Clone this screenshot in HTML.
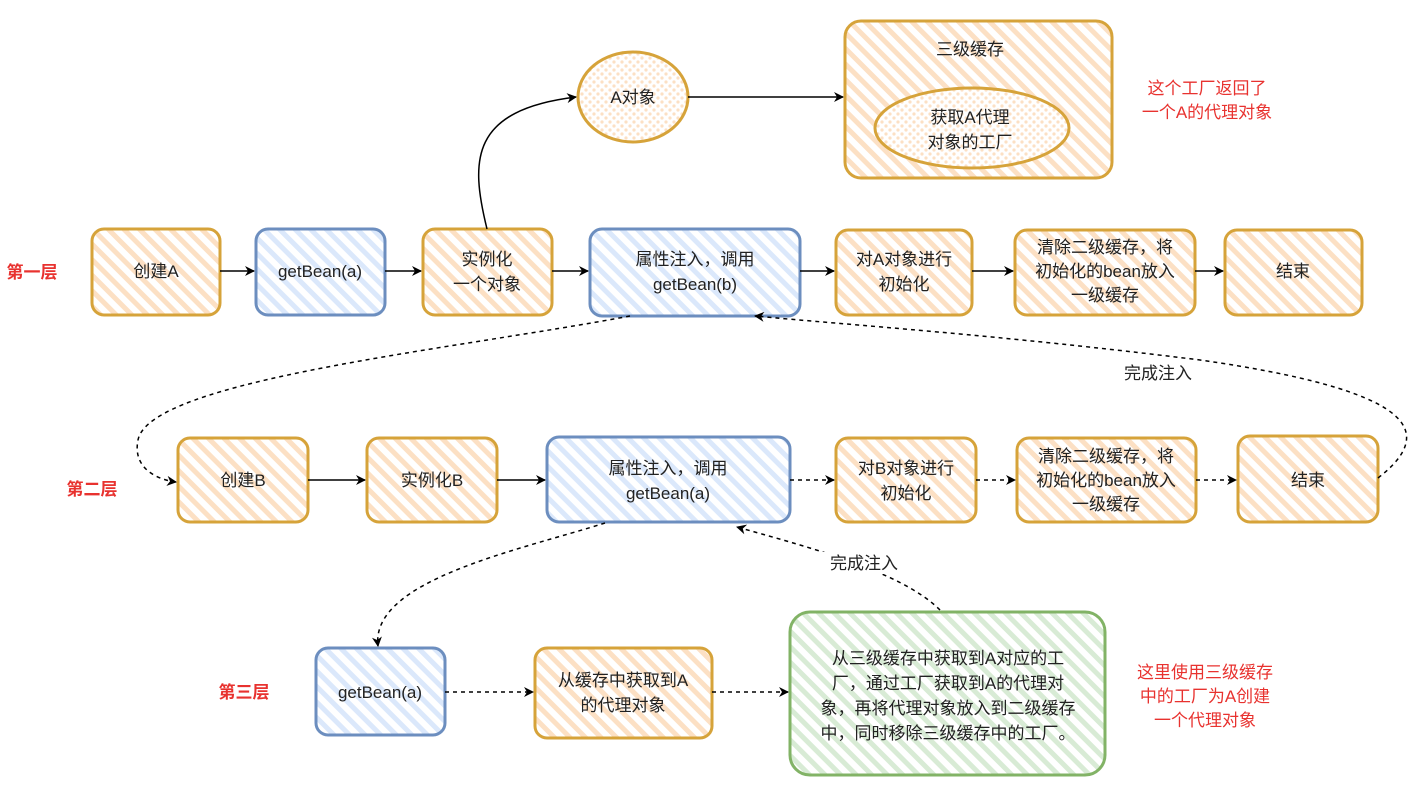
<!DOCTYPE html>
<html><head><meta charset="utf-8"><style>
html,body{margin:0;padding:0;background:#fff;}
svg{display:block;font-family:"Liberation Sans","Noto Sans CJK SC",sans-serif;}
</style></head><body>
<svg width="1422" height="800" viewBox="0 0 1422 800" xmlns="http://www.w3.org/2000/svg">
<defs>
<pattern id="po" width="11" height="11" patternUnits="userSpaceOnUse" patternTransform="rotate(-45)"><rect width="11" height="11" fill="#fff"/><rect width="5" height="11" fill="#fce0c4"/></pattern>
<pattern id="pb" width="11" height="11" patternUnits="userSpaceOnUse" patternTransform="rotate(-45)"><rect width="11" height="11" fill="#fff"/><rect width="5" height="11" fill="#dbe8fb"/></pattern>
<pattern id="pg" width="11" height="11" patternUnits="userSpaceOnUse" patternTransform="rotate(-45)"><rect width="11" height="11" fill="#fff"/><rect width="5" height="11" fill="#d8ebd5"/></pattern>
<pattern id="pd" width="8" height="8" patternUnits="userSpaceOnUse"><rect width="8" height="8" fill="#fff"/><circle cx="2" cy="2" r="1.6" fill="#fce0c4"/><circle cx="6" cy="6" r="1.6" fill="#fce0c4"/></pattern>
<marker id="ar" markerWidth="10" markerHeight="10" refX="9" refY="5" orient="auto" markerUnits="userSpaceOnUse"><path d="M0,0 L10,5 L0,10 L3,5 Z" fill="#000"/></marker>
</defs>
<g stroke-width="3" font-size="17" text-anchor="middle" fill="#222">
<rect x="92" y="229" width="128" height="86" rx="12" fill="url(#po)" stroke="#d6a33a"/>
<rect x="256" y="229" width="129" height="86" rx="12" fill="url(#pb)" stroke="#6c8ebf"/>
<rect x="423" y="229" width="129" height="86" rx="12" fill="url(#po)" stroke="#d6a33a"/>
<rect x="590" y="229" width="210" height="87" rx="12" fill="url(#pb)" stroke="#6c8ebf"/>
<rect x="836" y="230" width="136" height="85" rx="12" fill="url(#po)" stroke="#d6a33a"/>
<rect x="1015" y="230" width="180" height="85" rx="12" fill="url(#po)" stroke="#d6a33a"/>
<rect x="1225" y="230" width="137" height="85" rx="12" fill="url(#po)" stroke="#d6a33a"/>
<ellipse cx="633" cy="97" rx="55" ry="45" fill="url(#pd)" stroke="#d6a33a"/>
<rect x="845" y="21" width="267" height="157" rx="16" fill="url(#po)" stroke="#d6a33a"/>
<ellipse cx="972" cy="128" rx="97" ry="40" fill="url(#pd)" stroke="#d6a33a"/>
<rect x="178" y="438" width="130" height="84" rx="12" fill="url(#po)" stroke="#d6a33a"/>
<rect x="367" y="438" width="130" height="84" rx="12" fill="url(#po)" stroke="#d6a33a"/>
<rect x="547" y="437" width="243" height="85" rx="12" fill="url(#pb)" stroke="#6c8ebf"/>
<rect x="836" y="438" width="140" height="84" rx="12" fill="url(#po)" stroke="#d6a33a"/>
<rect x="1017" y="438" width="179" height="84" rx="12" fill="url(#po)" stroke="#d6a33a"/>
<rect x="1238" y="436" width="140" height="86" rx="12" fill="url(#po)" stroke="#d6a33a"/>
<rect x="316" y="648" width="129" height="87" rx="12" fill="url(#pb)" stroke="#6c8ebf"/>
<rect x="535" y="648" width="177" height="90" rx="12" fill="url(#po)" stroke="#d6a33a"/>
<rect x="790" y="612" width="315" height="163" rx="20" fill="url(#pg)" stroke="#82b366"/>
</g>
<g fill="none" stroke="#000" stroke-width="1.5">
<line x1="220" y1="271" x2="254" y2="271" marker-end="url(#ar)"/>
<line x1="385" y1="271" x2="421" y2="271" marker-end="url(#ar)"/>
<line x1="552" y1="271" x2="588" y2="271" marker-end="url(#ar)"/>
<line x1="800" y1="271" x2="834" y2="271" marker-end="url(#ar)"/>
<line x1="972" y1="271" x2="1013" y2="271" marker-end="url(#ar)"/>
<line x1="1195" y1="271" x2="1223" y2="271" marker-end="url(#ar)"/>
<path d="M487,229 C470,160 470,110 576,97" marker-end="url(#ar)"/>
<line x1="688" y1="97" x2="843" y2="97" marker-end="url(#ar)"/>
<line x1="308" y1="480" x2="365" y2="480" marker-end="url(#ar)"/>
<line x1="497" y1="480" x2="545" y2="480" marker-end="url(#ar)"/>
<g stroke-dasharray="4,4">
<line x1="790" y1="480" x2="834" y2="480" marker-end="url(#ar)"/>
<line x1="976" y1="480" x2="1015" y2="480" marker-end="url(#ar)"/>
<line x1="1196" y1="480" x2="1236" y2="480" marker-end="url(#ar)"/>
<path d="M630,316 C450,350 150,380 138,440 C132,470 160,480 176,482" marker-end="url(#ar)"/>
<path d="M1378,478 C1440,430 1410,390 1200,360 C1000,335 850,325 755,316" marker-end="url(#ar)"/>
<path d="M605,523 C520,550 370,580 378,646" marker-end="url(#ar)"/>
<path d="M940,610 C900,570 800,545 737,527" marker-end="url(#ar)"/>
<line x1="445" y1="692" x2="533" y2="692" marker-end="url(#ar)"/>
<line x1="712" y1="692" x2="788" y2="692" marker-end="url(#ar)"/>
</g>
</g>
<g font-size="17" text-anchor="middle" fill="#222">
<rect x="1116" y="362" width="86" height="22" fill="#fff"/>
<text x="1158" y="379">完成注入</text>
<rect x="820" y="552" width="88" height="22" fill="#fff"/>
<text x="864" y="569">完成注入</text>
<text x="156" y="277">创建A</text>
<text x="320" y="277">getBean(a)</text>
<text x="487" y="265">实例化</text><text x="487" y="290">一个对象</text>
<text x="695" y="265">属性注入，调用</text><text x="695" y="290">getBean(b)</text>
<text x="904" y="265">对A对象进行</text><text x="904" y="290">初始化</text>
<text x="1105" y="253">清除二级缓存，将</text><text x="1105" y="277">初始化的bean放入</text><text x="1105" y="301">一级缓存</text>
<text x="1293" y="277">结束</text>
<text x="633" y="103">A对象</text>
<text x="970" y="55">三级缓存</text>
<text x="970" y="123">获取A代理</text><text x="970" y="148">对象的工厂</text>
<text x="243" y="486">创建B</text>
<text x="432" y="486">实例化B</text>
<text x="668" y="474">属性注入，调用</text><text x="668" y="499">getBean(a)</text>
<text x="906" y="474">对B对象进行</text><text x="906" y="499">初始化</text>
<text x="1106" y="462">清除二级缓存，将</text><text x="1106" y="486">初始化的bean放入</text><text x="1106" y="510">一级缓存</text>
<text x="1308" y="486">结束</text>
<text x="380" y="698">getBean(a)</text>
<text x="623" y="686">从缓存中获取到A</text><text x="623" y="711">的代理对象</text>
<text x="948" y="664">从三级缓存中获取到A对应的工</text>
<text x="948" y="689">厂，通过工厂获取到A的代理对</text>
<text x="948" y="714">象，再将代理对象放入到二级缓存</text>
<text x="948" y="739">中，同时移除三级缓存中的工厂。</text>
</g>
<g font-size="17" font-weight="bold" fill="#e8322f" text-anchor="middle">
<text x="32" y="278">第一层</text>
<text x="92" y="495">第二层</text>
<text x="244" y="698">第三层</text>
</g>
<g font-size="17" fill="#e8322f" text-anchor="middle">
<text x="1207" y="94">这个工厂返回了</text><text x="1207" y="118">一个A的代理对象</text>
<text x="1205" y="678">这里使用三级缓存</text><text x="1205" y="702">中的工厂为A创建</text><text x="1205" y="726">一个代理对象</text>
</g>
</svg>
</body></html>
